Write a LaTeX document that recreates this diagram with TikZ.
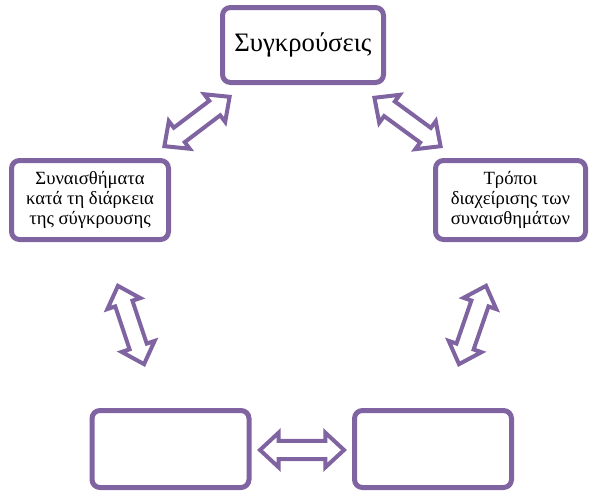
\documentclass[tikz,border=0pt]{standalone}
\usepackage{fontspec}
\setmainfont{Liberation Serif}
\usetikzlibrary{calc}
\definecolor{boxpurple}{RGB}{128,100,162}
\tikzset{
  box/.style={draw=boxpurple, line width=3.75pt, rounded corners=6pt, fill=white, align=center, inner sep=0pt},
  midtext/.style={font=\fontsize{14}{15.2}\selectfont},
  blk/.style={draw=boxpurple, line width=3pt, fill=white, line join=miter, miter limit=10},
}
\newcommand\blkah{14pt}
\newcommand\blkhw{13pt}
\newcommand\blksw{6.8pt}
\newcommand\blkarrow[2]{%
  \coordinate (p) at ($(#1)!2.25pt!(#2)$);
  \coordinate (q) at ($(#2)!2.25pt!(#1)$);
  \draw[blk] (p) -- ($(p)!\blkah!(q)!\blkhw!90:(q)$) -- ($(p)!\blkah!(q)!\blksw!90:(q)$)
    -- ($(q)!\blkah!(p)!\blksw!-90:(p)$) -- ($(q)!\blkah!(p)!\blkhw!-90:(p)$) -- (q)
    -- ($(q)!\blkah!(p)!\blkhw!90:(p)$) -- ($(q)!\blkah!(p)!\blksw!90:(p)$)
    -- ($(p)!\blkah!(q)!\blksw!-90:(q)$) -- ($(p)!\blkah!(q)!\blkhw!-90:(q)$) -- cycle;}
\begin{document}
\begin{tikzpicture}[x=0.75pt,y=-0.75pt]
\useasboundingbox (0,0) rectangle (590,493);
\node[box, minimum width=120.75pt, minimum height=56.25pt] (top) at (303,45) {\fontsize{20}{23}\selectfont Συγκρούσεις};
\node[box, midtext, minimum width=117.75pt, minimum height=59.25pt] (left) at (90,200) {Συναισθήματα\\κατά τη διάρκεια\\της σύγκρουσης};
\node[box, midtext, minimum width=112.5pt, minimum height=59.25pt] (right) at (510.5,200) {Τρόποι\\διαχείρισης των\\συναισθημάτων};
\node[box, minimum width=117.75pt, minimum height=57.75pt] (bl) at (170.5,449) {};
\node[box, minimum width=117.75pt, minimum height=57.75pt] (br) at (433,449) {};
\coordinate (a1) at (162,148); \coordinate (b1) at (232,95);
\coordinate (a2) at (372,96);  \coordinate (b2) at (443,148);
\coordinate (a3) at (117,283); \coordinate (b3) at (145,367);
\coordinate (a4) at (487,283); \coordinate (b4) at (458,367);
\coordinate (a5) at (257,450); \coordinate (b5) at (347,450);
\blkarrow{a1}{b1}
\blkarrow{a2}{b2}
\blkarrow{a3}{b3}
\blkarrow{a4}{b4}
\blkarrow{a5}{b5}
\end{tikzpicture}
\end{document}
